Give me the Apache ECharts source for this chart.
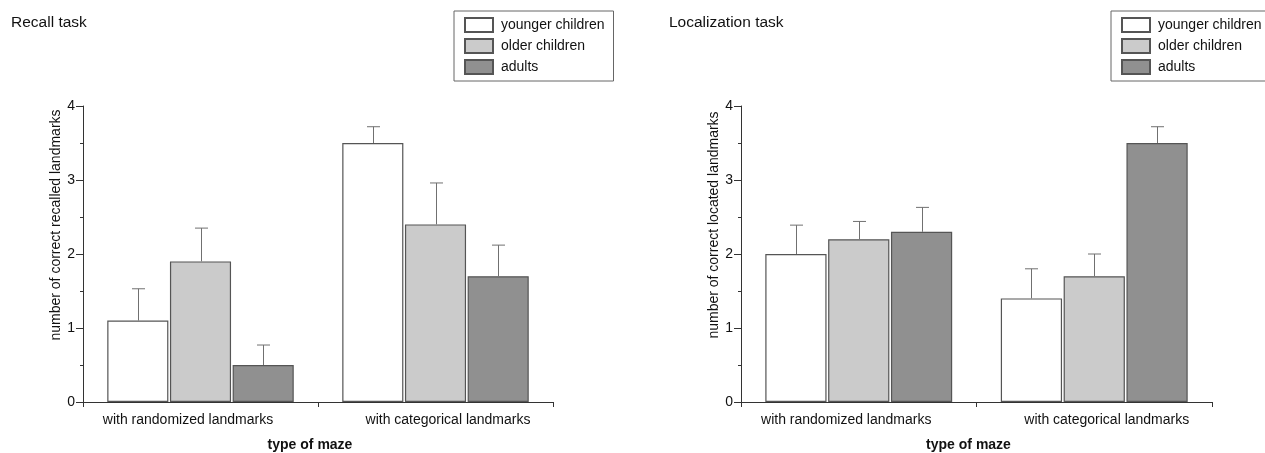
<!DOCTYPE html>
<html>
<head>
<meta charset="utf-8">
<script src="https://cdn.jsdelivr.net/npm/echarts@6/dist/echarts.min.js"></script>
<style>
  html, body { margin: 0; padding: 0; background: #fff; }
  #chart { width: 1265px; height: 453px; }
</style>
</head>
<body>
<div id="chart"></div>
<script>
// categories and groups
const categories = ['with randomized landmarks', 'with categorical landmarks']
const groups = ['younger children', 'older children', 'adults']

// recall task: means and error (upper bar length)
const recallYounger = [1.1, 3.5]
const recallOlder = [1.9, 2.4]
const recallAdults = [0.5, 1.7]
const recallYoungerErr = [0.43, 0.22]
const recallOlderErr = [0.45, 0.56]
const recallAdultsErr = [0.27, 0.42]

// localization task
const locYounger = [2.0, 1.4]
const locOlder = [2.2, 1.7]
const locAdults = [2.3, 3.5]
const locYoungerErr = [0.39, 0.4]
const locOlderErr = [0.24, 0.3]
const locAdultsErr = [0.33, 0.22]

const yTicks = [0, 1, 2, 3, 4]

const FONT = 'Liberation Sans, Arial, sans-serif'
const fills = ['#ffffff', '#cbcbcb', '#909090']
const BAR_FRAC = 0.26
const BAR_GAP = 0.026

let chart = echarts.init(document.getElementById('chart'))

function barSeries (name, idx, data, slot) {
  return {
    name: name,
    type: 'bar',
    xAxisIndex: idx,
    yAxisIndex: idx,
    barWidth: (BAR_FRAC * 100) + '%',
    barGap: (BAR_GAP * 100) + '%',
    itemStyle: { color: fills[slot], borderColor: '#555', borderWidth: 1.2 },
    emphasis: { disabled: true },
    data: data
  }
}

function errSeries (idx, data, errs, slot) {
  return {
    name: 'err' + idx + '_' + slot,
    type: 'custom',
    xAxisIndex: idx,
    yAxisIndex: idx,
    z: 5,
    data: data.map((v, i) => [i, v, errs[i]]),
    renderItem (params, api) {
      let cat = api.value(0)
      let v = api.value(1)
      let e = api.value(2)
      let bw = api.size([1, 0])[0] * BAR_FRAC
      let off = (slot - 1) * bw * (1 + BAR_GAP)
      let p0 = api.coord([cat, v])
      let p1 = api.coord([cat, v + e])
      let x = Math.round(p0[0] + off) + 0.5
      let st = { stroke: '#707070', lineWidth: 1 }
      return {
        type: 'group',
        children: [
          { type: 'line', shape: { x1: x, y1: p0[1], x2: x, y2: p1[1] }, style: st },
          { type: 'line', shape: { x1: x - 6.5, y1: p1[1], x2: x + 6.5, y2: p1[1] }, style: st }
        ]
      }
    }
  }
}

function xAxisOpt (idx) {
  return {
    type: 'category',
    gridIndex: idx,
    data: categories,
    axisLine: { lineStyle: { color: '#333', width: 1 } },
    axisTick: { show: true, interval: 0, length: 5, lineStyle: { color: '#333' } },
    axisLabel: {
      interval: 0,
      hideOverlap: false,
      margin: 11,
      color: '#111',
      fontFamily: FONT,
      fontSize: 14,
      formatter (val, i) {
        return i === 0 ? '{a|' + val + '}' : '{b|' + val + '}'
      },
      rich: {
        a: { fontFamily: FONT, fontSize: 14, color: '#111', padding: [0, 25, 0, 0] },
        b: { fontFamily: FONT, fontSize: 14, color: '#111', padding: [0, 0, 0, 25] }
      }
    },
    name: 'type of maze',
    nameLocation: 'middle',
    nameGap: 36,
    nameMoveOverlap: false,
    nameTextStyle: {
      fontFamily: FONT, fontSize: 14, fontWeight: 'bold', color: '#111',
      padding: [0, 16, 0, 0]
    }
  }
}

function yAxisOpt (idx, name) {
  return {
    type: 'value',
    gridIndex: idx,
    min: yTicks[0],
    max: yTicks[yTicks.length - 1],
    interval: 1,
    axisLine: { show: true, lineStyle: { color: '#333', width: 1 } },
    axisTick: { show: true, length: 7, lineStyle: { color: '#333' } },
    minorTick: { show: true, splitNumber: 2, length: 3, lineStyle: { color: '#333' } },
    splitLine: { show: false },
    axisLabel: { margin: 8, color: '#111', fontFamily: FONT, fontSize: 14 },
    name: name,
    nameLocation: 'middle',
    nameGap: 20,
    nameMoveOverlap: false,
    nameTextStyle: {
      fontFamily: FONT, fontSize: 14, color: '#111',
      padding: [0, 0, 0, 58]
    }
  }
}

function legendOpt (left) {
  return {
    orient: 'vertical',
    left: left,
    top: 11,
    data: groups,
    icon: 'rect',
    itemWidth: 28,
    itemHeight: 14,
    itemGap: 5,
    borderColor: '#666',
    borderWidth: 1,
    borderRadius: 0,
    padding: [6, 9, 6, 10],
    selectedMode: false,
    textStyle: { fontFamily: FONT, fontSize: 14, color: '#111', padding: [0, 0, 0, 3] }
  }
}

var option = {
  animation: false,
  backgroundColor: '#fff',
  title: [
    { text: 'Recall task', left: 11, top: 15, padding: 0,
      textStyle: { fontFamily: FONT, fontSize: 15.5, fontWeight: 'normal', color: '#111' } },
    { text: 'Localization task', left: 669, top: 15, padding: 0,
      textStyle: { fontFamily: FONT, fontSize: 15.5, fontWeight: 'normal', color: '#111' } }
  ],
  legend: [legendOpt(454), legendOpt(1111)],
  grid: [
    { left: 83, top: 106, width: 470, height: 296, containLabel: false, outerBoundsMode: 'none' },
    { left: 741, top: 106, width: 471, height: 296, containLabel: false, outerBoundsMode: 'none' }
  ],
  xAxis: [xAxisOpt(0), xAxisOpt(1)],
  yAxis: [
    yAxisOpt(0, 'number of correct recalled landmarks'),
    yAxisOpt(1, 'number of correct located landmarks')
  ],
  series: [
    barSeries(groups[0], 0, recallYounger, 0),
    barSeries(groups[1], 0, recallOlder, 1),
    barSeries(groups[2], 0, recallAdults, 2),
    barSeries(groups[0], 1, locYounger, 0),
    barSeries(groups[1], 1, locOlder, 1),
    barSeries(groups[2], 1, locAdults, 2),
    errSeries(0, recallYounger, recallYoungerErr, 0),
    errSeries(0, recallOlder, recallOlderErr, 1),
    errSeries(0, recallAdults, recallAdultsErr, 2),
    errSeries(1, locYounger, locYoungerErr, 0),
    errSeries(1, locOlder, locOlderErr, 1),
    errSeries(1, locAdults, locAdultsErr, 2)
  ]
}
chart.setOption(option)
</script>
</body>
</html>
